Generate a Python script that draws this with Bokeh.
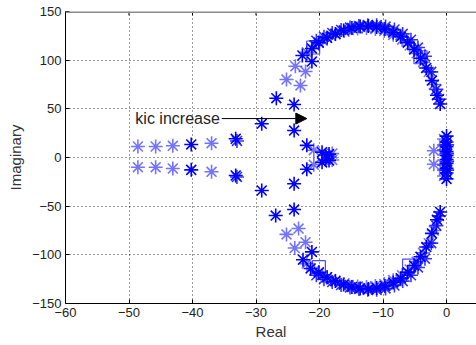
from bokeh.plotting import figure
from bokeh.models import Arrow, NormalHead, FixedTicker, Span
from bokeh.core.properties import value
from bokeh.embed import file_html
from bokeh.resources import INLINE

# ---- data (closed-loop poles) ----
s1_re = [-40.2, -33.2, -29.1, -26.8, -24.0, -24.0, -22.0, -21.2, -22.7, -19.6, -18.5,
         -40.2, -33.2, -29.1, -26.9, -24.0, -24.0, -22.0, -21.2, -22.6, -19.6, -18.5,
         -21.2, -20.1, -18.8, -17.5, -16.2, -14.9, -13.6, -12.3, -11.0, -9.7, -8.4, -7.2, -6.1, -5.1, -4.1, -3.2, -2.3, -1.5, -1.0,
         -21.4, -20.1, -18.8, -17.5, -16.2, -14.9, -13.6, -12.3, -11.0, -9.7, -8.4, -7.2, -6.1, -5.1, -4.1, -3.2, -2.3, -1.5, -1.0,
         0.0, 0.0, 0.0, 0.0, 0.0, 0.0, 0.0, 0.0, 0.0, 0.0]
s1_im = [13.4, 19.2, 34.6, 60.9, 54.4, 27.7, 12.5, 98.6, 104.8, 5.5, 3.5,
         -12.7, -18.5, -33.9, -59.6, -53.5, -27.0, -12.0, -97.0, -105.0, -5.0, -3.0,
         112, 118, 123, 127, 130.5, 133, 134.5, 135, 134, 132, 128.5, 124, 118, 111, 102, 92, 79, 64, 55,
         -114, -118, -123, -127, -130.5, -133, -134.5, -135, -134, -132, -128.5, -124, -118, -111, -102, -92, -78, -64, -56,
         22, 16, 11, 6, 2, -2, -6, -11, -16, -22]

s2_re = [-48.6, -45.8, -43.1, -37.0, -48.6, -45.8, -43.1, -37.0,
         -25.2, -25.2, -23.8, -23.9, -23.0, -23.3, -22.2, -22.2, -20.9, -20.9, -18.0, -18.0,
         -2.0, -2.0, -0.4, -0.4, -0.4, -0.4, -0.4, -0.4,
         -22.0, -20.8, -19.5, -18.2, -16.8, -15.4, -14.0, -12.6, -11.2, -9.8, -8.4, -7.0, -5.8, -4.7, -3.7, -2.8, -2.0,
         -22.0, -20.8, -19.5, -18.2, -16.8, -15.4, -14.0, -12.6, -11.2, -9.8, -8.4, -7.0, -5.8, -4.7, -3.7, -2.8, -2.0]
s2_im = [11.3, 11.3, 12.0, 14.7, -10.0, -10.0, -11.3, -14.7,
         80.1, -79.0, 93.8, -93.0, 74.0, -73.0, 88.3, -87.0, 7.5, -7.5, 4.0, -2.5,
         7.0, -7.0, 19, 13, 8, -8, -13, -19,
         108, 115, 120, 125, 128.5, 131, 132.5, 133, 132, 130, 126, 121, 115, 107, 98, 88, 75,
         -109, -116, -121, -125, -128.5, -131, -132.5, -133, -132, -130, -126, -121, -115, -107, -98, -88, -75]

s3_re = [-19.0, -19.0, 0.1, 0.1, 0.1, 0.1, -33.0, -33.0,
         -20.5, -19.3, -18.0, -16.6, -15.2, -13.8, -12.4, -11.0, -9.6, -8.2, -6.9, -5.6, -4.5, -3.4, -2.4, -1.6, -1.2,
         -20.5, -19.3, -18.0, -16.6, -15.2, -13.8, -12.4, -11.0, -9.6, -8.2, -6.9, -5.6, -4.5, -3.4, -2.4, -1.6, -1.2]
s3_im = [2.0, -2.0, 4.0, -4.0, 13.0, -13.0, 17.0, -20.0,
         120, 124, 128, 131, 133.5, 135, 136, 136, 134.5, 131.5, 127, 121, 113, 104, 88, 70, 60,
         -121, -125, -128, -131, -133.5, -135, -136, -136, -134.5, -131.5, -127, -121, -113, -104, -88, -70, -60]

sq_re = [-21.0, -20.1, -5.9, -4.1]
sq_im = [113.0, -112.7, -111.0, 103.0]

x_ticks = [-60, -50, -40, -30, -20, -10, 0]
y_ticks = [-150, -100, -50, 0, 50, 100, 150]

FONT = "Liberation Sans"

p = figure(width=476, height=345, output_backend="svg", toolbar_location=None,
           x_range=(-60, 4.72), y_range=(-150, 150),
           min_border_left=65, min_border_right=0, min_border_top=11, min_border_bottom=42)
p.background_fill_color = "white"
p.border_fill_color = "white"
p.outline_line_color = None

# grid
for g in (p.xgrid, p.ygrid):
    g.grid_line_color = "black"
    g.grid_line_dash = "1 3"
    g.grid_line_alpha = 0.8
    g.grid_line_width = 1
p.xgrid.ticker = FixedTicker(ticks=x_ticks)
p.ygrid.ticker = FixedTicker(ticks=y_ticks)

# axes
p.xaxis.ticker = FixedTicker(ticks=x_ticks)
p.yaxis.ticker = FixedTicker(ticks=y_ticks)
for ax in (p.xaxis[0], p.yaxis[0]):
    ax.axis_line_color = "black"
    ax.major_tick_in = 4
    ax.major_tick_out = 0
    ax.minor_tick_line_color = None
    ax.major_tick_line_color = "black"
    ax.major_label_text_font = FONT
    ax.major_label_text_font_size = "13px"
    ax.major_label_text_color = "#222222"
    ax.major_label_standoff = 4
    ax.axis_label_text_font = FONT
    ax.axis_label_text_font_size = "15px"
    ax.axis_label_text_font_style = "normal"
    ax.axis_label_text_color = "#333333"
p.xaxis.axis_label = "Real"
p.yaxis.axis_label = "Imaginary"
p.xaxis.axis_label_standoff = 3
p.yaxis.axis_label_standoff = 5

# top box edge with inward ticks
p.add_layout(Span(location=150, dimension="width", line_color="#8c8c8c", line_width=3))
p.segment(x0=x_ticks, y0=[150] * len(x_ticks), x1=x_ticks, y1=[146] * len(x_ticks),
          line_color="black", line_width=1)

# markers
p.scatter(s2_re, s2_im, marker="asterisk", size=14, line_color="#0000ff", line_alpha=0.55, line_width=1.6)
p.scatter(s3_re, s3_im, marker="asterisk", size=14, line_color="#0000ff", line_alpha=0.8, line_width=1.6)
p.scatter(s1_re, s1_im, marker="asterisk", size=14, line_color="#0000ff", line_alpha=1.0, line_width=1.6)
p.scatter(sq_re, sq_im, marker="square", size=13, fill_color=None, line_color="#0000ff", line_alpha=0.7, line_width=1.2)

# annotation
p.text(x=[-49.0], y=[40.0], text=["kic increase"], text_font=value(FONT), text_font_size="16px",
       text_color="#262626", text_baseline="middle", text_align="left")
p.add_layout(Arrow(end=NormalHead(size=11, fill_color="black", line_color="black"),
                   x_start=-35.4, y_start=40, x_end=-22.0, y_end=40,
                   line_color="black", line_width=1))

open("out.html", "w").write(file_html(p, INLINE))
